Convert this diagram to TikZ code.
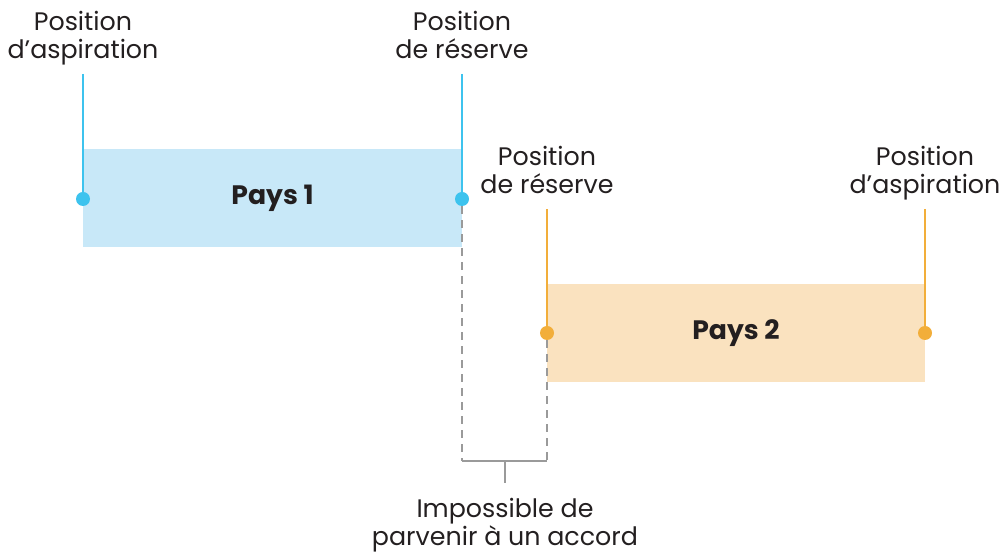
\documentclass[tikz,border=0pt]{standalone}
\usepackage{fontspec}
\setmainfont{Poppins}
\usepackage{xcolor}
\usepackage{tikz}
\usetikzlibrary{positioning}
\definecolor{paysblue}{HTML}{3DC3EE}
\definecolor{lightpaysblue}{HTML}{C8E8F8}
\definecolor{paysorange}{HTML}{F2AE3A}
\definecolor{lightpaysorange}{HTML}{FAE2BF}
\definecolor{limitgray}{HTML}{9A9A9A}
\definecolor{textdark}{HTML}{231F20}

\tikzset{
  poslabel/.style={align=center, font=\fontsize{19}{21}\selectfont,
    text=textdark, inner xsep=0pt, inner ysep=5pt, anchor=south},
  posdot/.style={circle, fill=#1, inner sep=0pt, minimum size=10.5pt},
  posline/.style={draw=#1, line width=1.4pt},
  paysbox/.style={fill=#1, inner sep=0pt, minimum width=284pt,
    minimum height=73.5pt, font=\fontsize{20}{24}\selectfont\bfseries,
    text=textdark},
  gapline/.style={draw=limitgray, line width=1.4pt}
}

\begin{document}
\begin{tikzpicture}[x=0.75pt,y=-0.75pt]
\useasboundingbox (0,0) rectangle (1004,555);

% pays 1
\node[paysbox=lightpaysblue] (pays1) at (272.5,198) {Pays 1};
\node[posdot=paysblue] (asp1) at (83,199) {};
\node[posdot=paysblue] (res1) at (462,199) {};
\node[poslabel] (labAsp1) at (83,74) {Position\\d’aspiration\strut};
\node[poslabel] (labRes1) at (462,74) {Position\\de réserve\strut};
\draw[posline=paysblue] (labAsp1.south) -- (asp1.center);
\draw[posline=paysblue] (labRes1.south) -- (res1.center);

% pays 2
\node[paysbox=lightpaysorange] (pays2) at (736,333) {Pays 2};
\node[posdot=paysorange] (res2) at (547,333) {};
\node[posdot=paysorange] (asp2) at (925,333) {};
\node[poslabel] (labRes2) at (547,209) {Position\\de réserve\strut};
\node[poslabel] (labAsp2) at (925,209) {Position\\d’aspiration\strut};
\draw[posline=paysorange] (labRes2.south) -- (res2.center);
\draw[posline=paysorange] (labAsp2.south) -- (asp2.center);

% zone sans accord
\coordinate (gapL) at (462,461);
\coordinate (gapR) at (547,461);
\coordinate (gapTick) at (505,483);
\draw[gapline, dash pattern=on 6pt off 4.5pt] (res1) -- (gapL);
\draw[gapline, dash pattern=on 6pt off 4.5pt] (res2) -- (gapR);
\draw[gapline] (gapL) -- (gapR);
\draw[gapline] (gapL -| gapTick) -- (gapTick);
\node[poslabel, anchor=north, inner ysep=0pt] (noDeal) at (505,498)
  {Impossible de\\parvenir à un accord};
\end{tikzpicture}
\end{document}
